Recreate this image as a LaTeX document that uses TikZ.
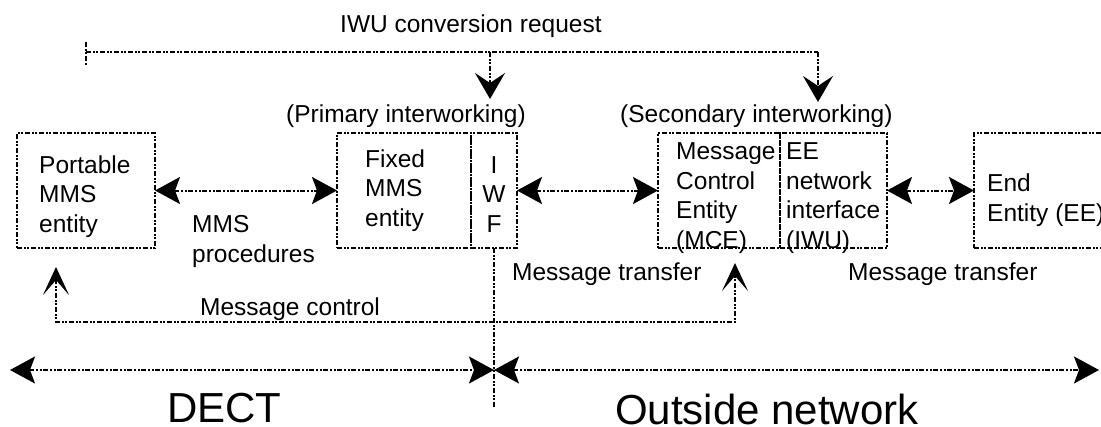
\documentclass[tikz,border=0pt]{standalone}
\usepackage{fontspec}
\setmainfont{Liberation Sans}
\usetikzlibrary{arrows.meta}
\begin{document}
\begin{tikzpicture}[x=1pt,y=-1pt,
  dd/.style={line width=2pt, dash pattern=on 5pt off 1.8pt on 1.8pt off 1.8pt on 1.8pt off 1.8pt},
  box/.style={dd, draw, rectangle, inner sep=0pt, outer sep=0pt, anchor=north west, minimum height=115pt},
  lbl/.style={inner sep=0pt, anchor=base west, font=\fontsize{24.5}{29.5}\selectfont},
  mlbl/.style={lbl, align=left},
  big/.style={inner sep=0pt, anchor=base west, font=\fontsize{42}{50}\selectfont},
  dblarr/.style={dd, {Stealth[length=25pt,width=27pt,inset=5pt]}-{Stealth[length=25pt,width=27pt,inset=5pt]}},
  downarr/.style={dd, -{Stealth[length=26pt,width=30pt,inset=10pt]}},
  uparr/.style={dd, {Stealth[length=28pt,width=26pt,inset=15pt]}-{Stealth[length=28pt,width=26pt,inset=15pt]}}
]
\useasboundingbox[fill=white] (0,0) rectangle (1101,426);
\clip (0,0) rectangle (1101,426);

% boxes
\node[box, minimum width=138pt] (pme) at (17,133) {};
\node[box, minimum width=134pt] (fme) at (337,133) {};
\node[box, minimum width=46pt] (iwf) at (471,133) {};
\node[box, minimum width=122pt] (mce) at (658,133) {};
\node[box, minimum width=107pt] (iwu) at (780,133) {};
\node[box, minimum width=160pt] (ee) at (974,133) {};

% texts (multi-line nodes are placed by the baseline of their last line)
\node[lbl] (iwucr) at (340,32) {IWU conversion request};
\node[lbl] (primary) at (286,122) {(Primary interworking)};
\node[lbl] (secondary) at (620,122) {(Secondary interworking)};
\node[mlbl] (pmetext) at (39,232) {Portable\\MMS\\entity};
\node[mlbl] (fmetext) at (365,226) {Fixed\\MMS\\entity};
\node[lbl, anchor=base, align=center] (iwftext) at (494,232) {I\\W\\F};
\node[mlbl] (mcetext) at (676,248) {Message\\Control\\Entity\\(MCE)};
\node[mlbl] (iwutext) at (786,248) {EE\\network\\interface\\(IWU)};
\node[mlbl] (eetext) at (987,221) {End\\Entity (EE)};
\node[mlbl] (mmsproc) at (192,262) {MMS\\procedures};
\node[lbl] (mt1) at (512,280) {Message transfer};
\node[lbl] (mt2) at (848,280) {Message transfer};
\node[lbl] (mc) at (200,315) {Message control};
\node[big] (dect) at (167,422) {DECT};
\node[big] (outside) at (615,424) {Outside network};

% coordinates for free ends
\coordinate (tickT) at (86,42);
\coordinate (tickB) at (86,65);
\coordinate (topL) at (86,52);
\coordinate (topR) at (818,52);
\coordinate (topM) at (490,52);
\coordinate (tip1) at (490,99);
\coordinate (tip2) at (818,102);
\coordinate (vbot) at (494,408);
\coordinate (mcA) at (56,267);
\coordinate (mcB) at (56,322);
\coordinate (mcC) at (735,322);
\coordinate (mcD) at (735,263);
\coordinate (dL) at (10,370);
\coordinate (dM) at (494,370);
\coordinate (dR) at (1099,370);

% connectors
\draw[dblarr] (pme.east) -- (fme.west);
\draw[dblarr] (iwf.east) -- (mce.west);
\draw[dblarr] (iwu.east) -- (ee.west);

\draw[dd] (tickT) -- (tickB);
\draw[dd] (topL) -- (topR);
\draw[downarr] (topR) -- (tip2);
\draw[downarr] (topM) -- (tip1);

\draw[dd] (iwf.south) -- (vbot);
\draw[uparr] (mcA) -- (mcB) -- (mcC) -- (mcD);

\draw[dblarr] (dL) -- (dM);
\draw[dblarr] (dM) -- (dR);
\end{tikzpicture}
\end{document}
